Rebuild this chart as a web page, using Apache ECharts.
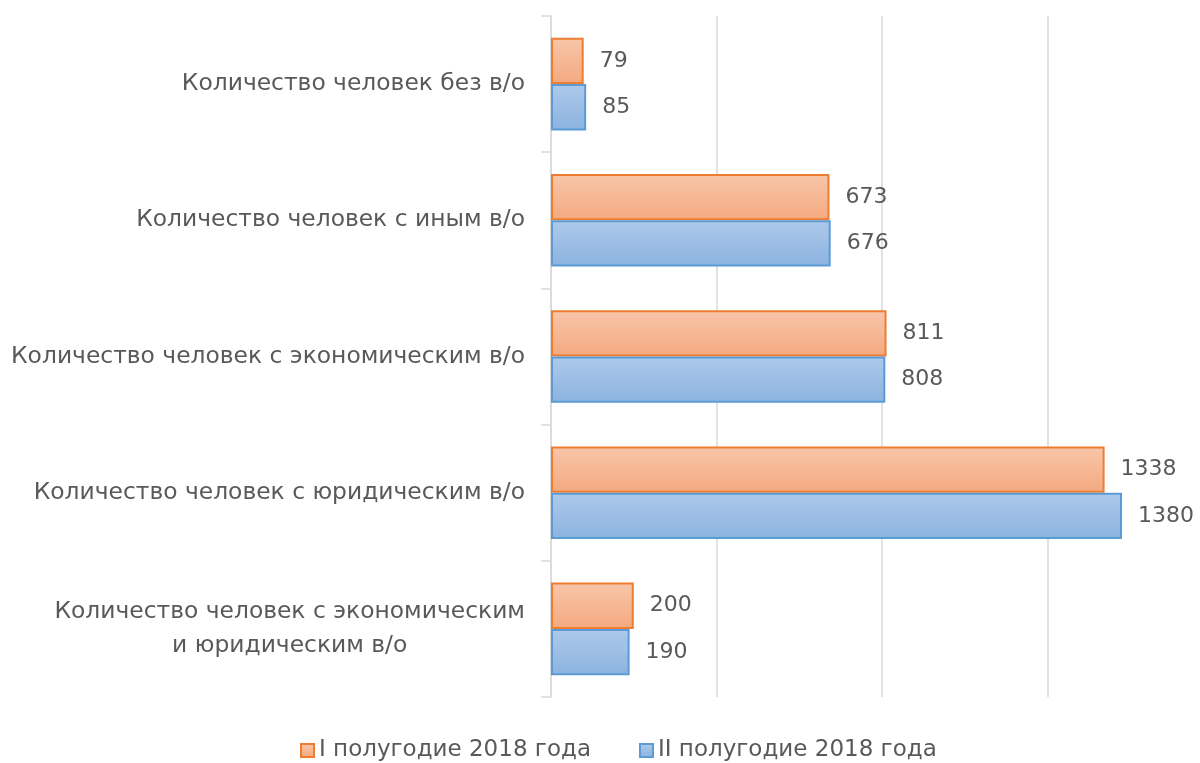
<!DOCTYPE html>
<html>
<head>
<meta charset="utf-8">
<script src="https://cdn.jsdelivr.net/npm/echarts@6/dist/echarts.min.js"></script>
<style>html,body{margin:0;padding:0;background:#fff;}#chart{width:1200px;height:763px;}</style>
</head>
<body>
<div id="chart"></div>
<script>
var categories = [
  'Количество человек без в/о',
  'Количество человек с иным в/о',
  'Количество человек с экономическим в/о',
  'Количество человек с юридическим в/о',
  'Количество человек с экономическим\nи юридическим в/о'
];
var seriesNames = ['I полугодие 2018 года', 'II полугодие 2018 года'];
var firstHalf = [79, 673, 811, 1338, 200];
var secondHalf = [85, 676, 808, 1380, 190];

var FONT = 'DejaVu Sans';
var chart = echarts.init(document.getElementById('chart'), null, {renderer: 'canvas'});

function grad(c1, c2) {
  return new echarts.graphic.LinearGradient(0, 0, 0, 1, [
    {offset: 0, color: c1}, {offset: 1, color: c2}
  ]);
}
var orangeFill = grad('#F8C6AA', '#F4A97F');
var blueFill = grad('#AEC9EA', '#8BB3E0');

chart.setOption({
  animation: false,
  textStyle: {fontFamily: FONT},
  grid: {left: 551, width: 662, top: 16, bottom: 66, containLabel: false, outerBoundsMode: 'none'},
  legend: {
    top: 734,
    left: 295,
    itemWidth: 13,
    itemHeight: 13,
    itemGap: 48,
    textStyle: {fontFamily: FONT, fontSize: 23, color: '#595959'},
    data: [
      {name: seriesNames[0], icon: 'rect'},
      {name: seriesNames[1], icon: 'rect'}
    ]
  },
  xAxis: {
    type: 'value',
    min: 0, max: 1600, interval: 400,
    axisLabel: {show: false},
    axisTick: {show: false},
    axisLine: {show: false},
    splitLine: {lineStyle: {color: '#D9D9D9', width: 1.5}}
  },
  yAxis: {
    type: 'category',
    inverse: true,
    data: categories,
    axisLine: {lineStyle: {color: '#D9D9D9', width: 1.5}},
    axisTick: {show: true, length: 10, lineStyle: {color: '#D9D9D9', width: 1.5}},
    axisLabel: {
      fontFamily: FONT, fontSize: 23.4, color: '#595959', margin: 26,
      formatter: function (v) {
        if (v.indexOf('\n') >= 0) {
          var p = v.split('\n');
          return '{c|' + p[0] + '}\n{c|' + p[1] + '}';
        }
        return v;
      },
      rich: {c: {align: 'center', fontFamily: FONT, fontSize: 23.4, color: '#595959', lineHeight: 34}}
    }
  },
  series: [
    {
      name: seriesNames[0], type: 'bar', data: firstHalf,
      barGap: '0%', barCategoryGap: '32%',
      itemStyle: {color: orangeFill, borderColor: '#ED7D31', borderWidth: 2},
      label: {show: true, position: 'right', distance: 16, fontFamily: FONT, fontSize: 22, color: '#595959'}
    },
    {
      name: seriesNames[1], type: 'bar', data: secondHalf,
      itemStyle: {color: blueFill, borderColor: '#5B9BD5', borderWidth: 2},
      label: {show: true, position: 'right', distance: 16, fontFamily: FONT, fontSize: 22, color: '#595959'}
    }
  ]
});
</script>
</body>
</html>
